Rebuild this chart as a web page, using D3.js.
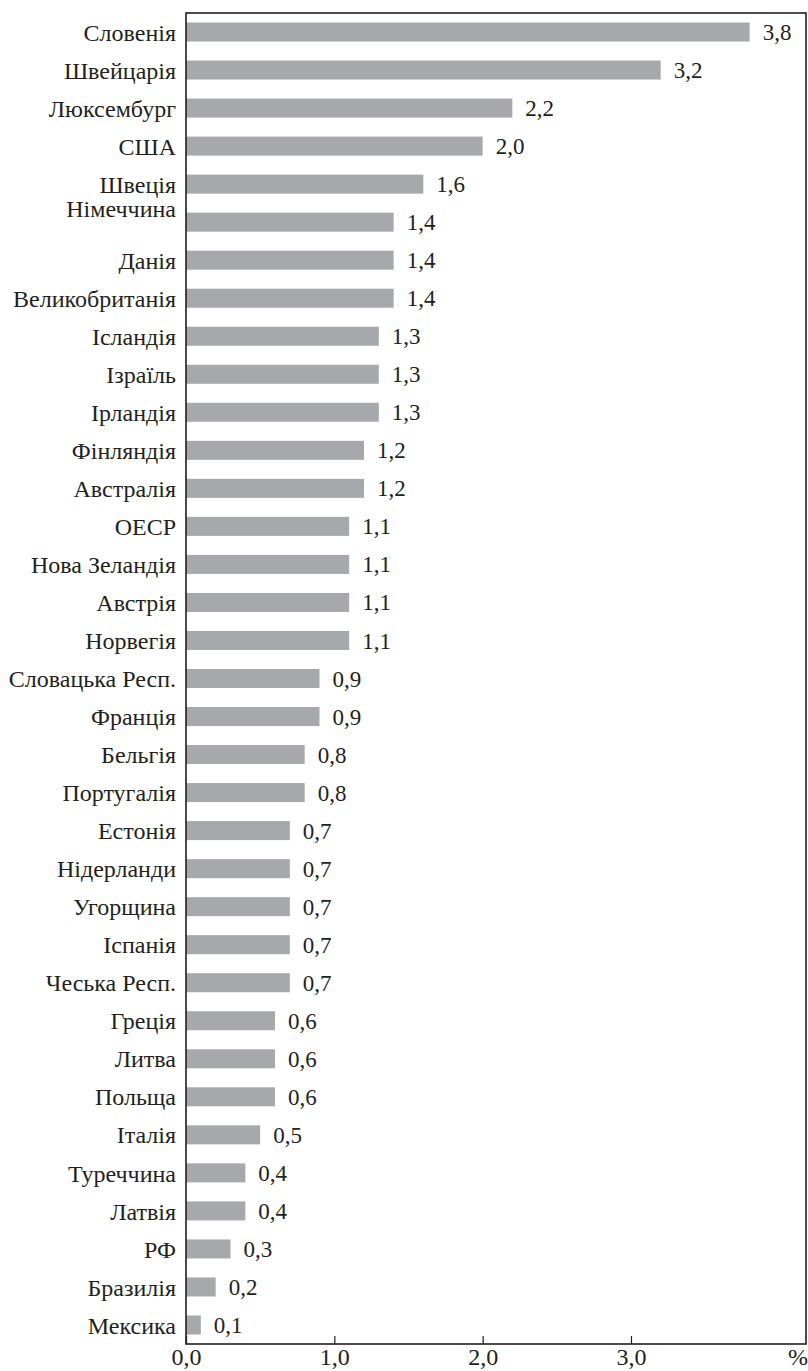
<!DOCTYPE html>
<html>
<head>
<meta charset="utf-8">
<script src="https://cdn.jsdelivr.net/npm/d3@7/dist/d3.min.js"></script>
<style>
  html, body { margin: 0; padding: 0; background: #fff; }
  svg { display: block; }
  svg text { font-family: "Liberation Serif", "Times New Roman", Times, serif; fill: #231f20; }
</style>
</head>
<body>
<svg id="chart" width="808" height="1371"></svg>
<script>
// Countries, top to bottom
const countries = [
  "Словенія", "Швейцарія", "Люксембург", "США", "Швеція", "Німеччина", "Данія",
  "Великобританія", "Ісландія", "Ізраїль", "Ірландія", "Фінляндія", "Австралія",
  "ОЕСР", "Нова Зеландія", "Австрія", "Норвегія", "Словацька Респ.", "Франція",
  "Бельгія", "Португалія", "Естонія", "Нідерланди", "Угорщина", "Іспанія",
  "Чеська Респ.", "Греція", "Литва", "Польща", "Італія", "Туреччина", "Латвія",
  "РФ", "Бразилія", "Мексика"
];
// Share, %
const values = [
  3.8, 3.2, 2.2, 2.0, 1.6, 1.4, 1.4,
  1.4, 1.3, 1.3, 1.3, 1.2, 1.2,
  1.1, 1.1, 1.1, 1.1, 0.9, 0.9,
  0.8, 0.8, 0.7, 0.7, 0.7, 0.7,
  0.7, 0.6, 0.6, 0.6, 0.5, 0.4, 0.4,
  0.3, 0.2, 0.1
];
const tickValues = [0, 1, 2, 3];
const unitLabel = "%";

const data = countries.map((c, i) => ({ country: c, value: values[i] }));

const plotLeft = 186, plotRight = 806, plotTop = 13, plotBottom = 1344;
const svg = d3.select("#chart");

const x = d3.scaleLinear().domain([0, 4.18]).range([plotLeft, plotRight]);
const y = d3.scaleBand().domain(countries).range([plotTop, plotBottom])
  .paddingInner(0.5).paddingOuter(0.25);

const fmt = v => d3.format(".1f")(v).replace(".", ",");

// bars
svg.append("g").selectAll("rect").data(data).join("rect")
  .attr("x", x(0))
  .attr("y", d => y(d.country))
  .attr("width", d => x(d.value) - x(0))
  .attr("height", y.bandwidth())
  .attr("fill", "#a7a8ab");

// value labels
svg.append("g").selectAll("text").data(data).join("text")
  .attr("x", d => x(d.value) + 13)
  .attr("y", d => y(d.country) + y.bandwidth() / 2)
  .attr("dy", "0.35em")
  .attr("font-size", 23)
  .text(d => fmt(d.value));

// category labels (Німеччина sits a little higher than its bar)
const labelShift = { "Німеччина": -14 };
svg.append("g").selectAll("text").data(data).join("text")
  .attr("x", plotLeft - 10)
  .attr("y", d => y(d.country) + y.bandwidth() / 2 + (labelShift[d.country] || 0))
  .attr("dy", "0.36em")
  .attr("text-anchor", "end")
  .attr("font-size", 24)
  .text(d => d.country);

// frame
svg.append("rect")
  .attr("x", plotLeft).attr("y", plotTop)
  .attr("width", plotRight - plotLeft).attr("height", plotBottom - plotTop)
  .attr("fill", "none").attr("stroke", "#231f20").attr("stroke-width", 1.6);

// bottom axis with inward ticks
const axis = d3.axisBottom(x).tickValues(tickValues).tickFormat(fmt)
  .tickSizeInner(-8).tickSizeOuter(0).tickPadding(4);
const gx = svg.append("g").attr("transform", `translate(0,${plotBottom})`).call(axis)
  .attr("font-family", null);
gx.select(".domain").remove();
gx.selectAll(".tick line").attr("stroke", "#231f20").attr("stroke-width", 1.2);
gx.selectAll(".tick text").attr("font-size", 24).attr("fill", "#231f20");

svg.append("text")
  .attr("x", plotRight - 8).attr("y", plotBottom + 4)
  .attr("dy", "0.71em")
  .attr("text-anchor", "middle")
  .attr("font-size", 24)
  .text(unitLabel);
</script>
</body>
</html>
